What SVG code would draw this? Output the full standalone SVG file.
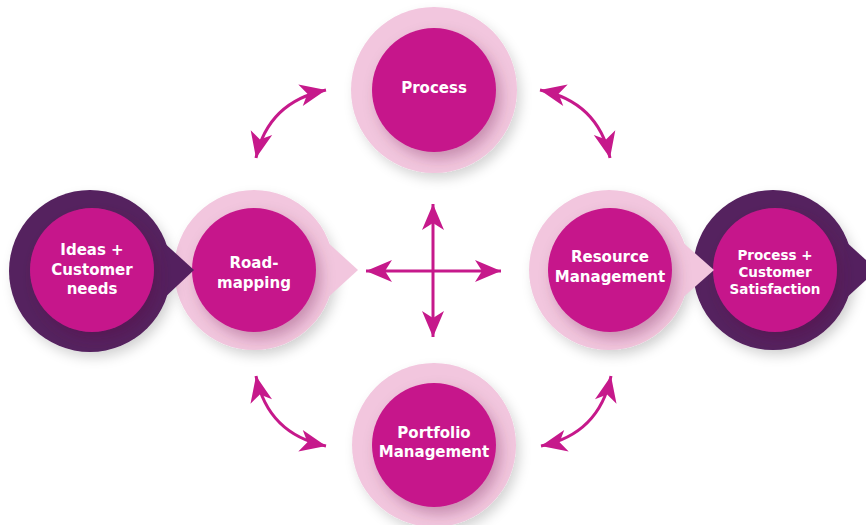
<svg xmlns="http://www.w3.org/2000/svg" width="866" height="525" viewBox="0 0 866 525">
<defs>
<style>
.ring{fill:#F2C6DE}
.dark{fill:#54205F}
.core{fill:#C6198B}
.lbl{font-family:"DejaVu Sans","Open Sans",sans-serif;font-weight:700;font-size:15px;fill:#FFFFFF;text-anchor:middle}
.sm{font-size:13.5px}
.arr{fill:none;stroke:#C6198B;stroke-width:3}
</style>
<filter id="so" x="-30%" y="-30%" width="160%" height="160%">
<feDropShadow dx="4" dy="6" stdDeviation="6" flood-color="#000" flood-opacity="0.16"/>
</filter>
<filter id="si" x="-30%" y="-30%" width="160%" height="160%">
<feDropShadow dx="5" dy="7" stdDeviation="7" flood-color="#5a0a3c" flood-opacity="0.28"/>
</filter>
<marker id="ah" viewBox="-28 -12 30 24" refX="0" refY="0" markerWidth="30" markerHeight="24" markerUnits="userSpaceOnUse" orient="auto-start-reverse">
<path d="M0,0 L-26,-11 L-19,0 L-26,11 Z" fill="#C6198B"/>
</marker>
</defs>

<g id="connectors">
<path class="arr" d="M256,158 Q268,102 326,90" marker-start="url(#ah)" marker-end="url(#ah)"/>
<path class="arr" d="M610,158 Q598,102 540,90" marker-start="url(#ah)" marker-end="url(#ah)"/>
<path class="arr" d="M256,376 Q268,434 326,446" marker-start="url(#ah)" marker-end="url(#ah)"/>
<path class="arr" d="M611,376 Q599,434 541,446" marker-start="url(#ah)" marker-end="url(#ah)"/>
<path class="arr" d="M433,204 L433,337" marker-start="url(#ah)" marker-end="url(#ah)"/>
<path class="arr" d="M366,271 L501,271" marker-start="url(#ah)" marker-end="url(#ah)"/>
</g>

<g id="process">
<circle class="ring" cx="434" cy="90" r="83" filter="url(#so)"/>
<circle class="core" cx="434" cy="90" r="62" filter="url(#si)"/>
<text class="lbl" x="434" y="93">Process</text>
</g>

<g id="portfolio">
<circle class="ring" cx="434" cy="445" r="82" filter="url(#so)"/>
<circle class="core" cx="434" cy="445" r="62" filter="url(#si)"/>
<text class="lbl" x="434" y="438">Portfolio</text>
<text class="lbl" x="434" y="457">Management</text>
</g>

<g id="roadmapping">
<circle class="ring" cx="254" cy="270" r="80" filter="url(#so)"/>
<path class="ring" d="M325,240 L358,270 L325,300 Z"/>
<circle class="core" cx="254" cy="270" r="62" filter="url(#si)"/>
<text class="lbl" x="254" y="268">Road-</text>
<text class="lbl" x="254" y="288">mapping</text>
</g>

<g id="ideas">
<circle class="dark" cx="90" cy="271" r="81" filter="url(#so)"/>
<path class="dark" d="M161,240 L194,270 L161,301 Z"/>
<circle class="core" cx="92" cy="270" r="62" filter="url(#si)"/>
<text class="lbl" x="92" y="255">Ideas +</text>
<text class="lbl" x="92" y="275">Customer</text>
<text class="lbl" x="92" y="294">needs</text>
</g>

<g id="satisfaction">
<circle class="dark" cx="773" cy="270" r="80" filter="url(#so)"/>
<path class="dark" d="M844,240 L877,270 L844,300 Z"/>
<circle class="core" cx="775" cy="270" r="62" filter="url(#si)"/>
<text class="lbl sm" x="775" y="260">Process +</text>
<text class="lbl sm" x="775" y="277">Customer</text>
<text class="lbl sm" x="775" y="294">Satisfaction</text>
</g>

<g id="resource">
<circle class="ring" cx="609" cy="270" r="80" filter="url(#so)"/>
<path class="ring" d="M680,240 L714,270 L680,300 Z"/>
<circle class="core" cx="610" cy="270" r="62" filter="url(#si)"/>
<text class="lbl" x="610" y="262">Resource</text>
<text class="lbl" x="610" y="282">Management</text>
</g>
</svg>
